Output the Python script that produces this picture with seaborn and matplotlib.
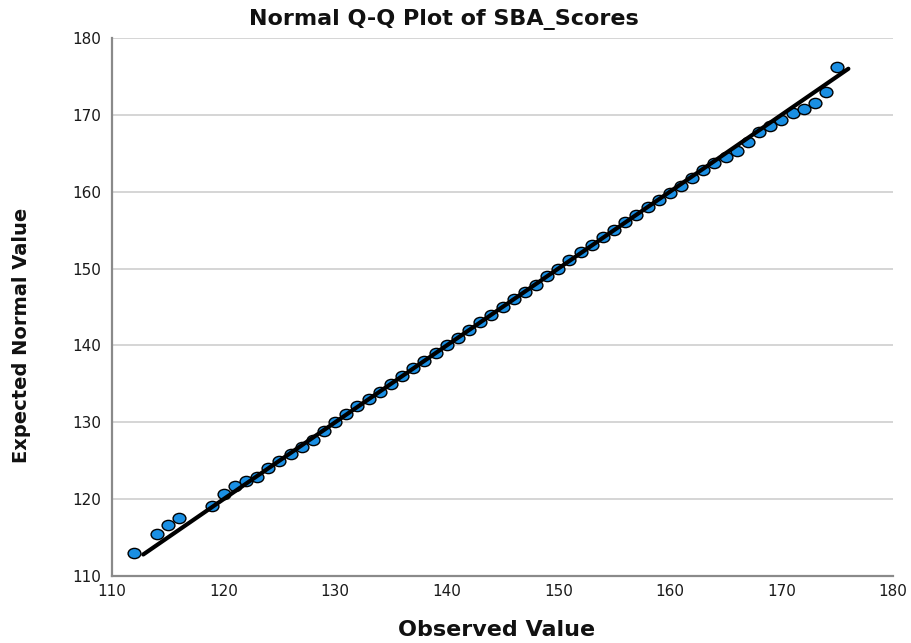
import matplotlib
matplotlib.use("Agg")
import matplotlib.pyplot as plt
import seaborn as sns
import pandas as pd
from matplotlib.path import Path
from matplotlib.transforms import Affine2D

# ---- data ----
observed = [112, 114, 115, 116, 119, 120, 121, 122, 123, 124, 125, 126, 127, 128,
            129, 130, 131, 132, 133, 134, 135, 136, 137, 138, 139, 140, 141, 142,
            143, 144, 145, 146, 147, 148, 149, 150, 151, 152, 153, 154, 155, 156,
            157, 158, 159, 160, 161, 162, 163, 164, 165, 166, 167, 168, 169, 170,
            171, 172, 173, 174, 175]
expected = [113.0, 115.4, 116.7, 117.6, 119.1, 120.7, 121.7, 122.3, 122.9, 124.0,
            124.9, 125.9, 126.8, 127.7, 128.9, 130.1, 131.1, 132.1, 133.0, 134.0,
            135.0, 136.0, 137.0, 138.0, 139.0, 140.0, 141.0, 142.0, 143.0, 144.0,
            145.0, 146.0, 146.9, 147.9, 149.0, 150.0, 151.1, 152.1, 153.1, 154.1,
            155.0, 156.0, 157.0, 158.0, 158.9, 159.8, 160.8, 161.8, 162.8, 163.7,
            164.5, 165.3, 166.5, 167.8, 168.5, 169.3, 170.3, 170.8, 171.5, 173.0,
            176.2]
line_x = [112.8, 176.0]
line_y = [112.8, 176.0]
ticks = [110, 120, 130, 140, 150, 160, 170, 180]
title = "Normal Q-Q Plot of SBA_Scores"
xlabel = "Observed Value"
ylabel = "Expected Normal Value"

pts = pd.DataFrame({"observed": observed, "expected": expected})
ln = pd.DataFrame({"x": line_x, "y": line_y})

sns.set_theme(style="white")
plt.rcParams["font.family"] = ["DejaVu Sans"]

W, H = 911, 643
fig = plt.figure(figsize=(W / 100, H / 100), dpi=100)
L, R, T, B = 112, 893, 38, 576
ax = fig.add_axes([L / W, 1 - B / H, (R - L) / W, (B - T) / H])

# slightly wide ellipse marker (the reference is horizontally stretched)
ell = Path.unit_circle().transformed(Affine2D().scale(1.0, 0.8))

sns.scatterplot(data=pts, x="observed", y="expected", ax=ax, marker=ell, s=85,
                color="#1a8fe3", edgecolor="black", linewidth=1.0, zorder=3,
                legend=False)
sns.lineplot(data=ln, x="x", y="y", ax=ax, color="black", linewidth=3.0,
             zorder=4, legend=False)

ax.set_xlim(110, 180)
ax.set_ylim(110, 180)
ax.set_xticks(ticks)
ax.set_yticks(ticks)
ax.set_xticklabels([str(t) for t in ticks], fontsize=11, color="#1a1a1a")
ax.set_yticklabels([str(t) for t in ticks], fontsize=11, color="#1a1a1a")
ax.tick_params(axis="both", length=0)
ax.tick_params(axis="x", pad=6)
ax.tick_params(axis="y", pad=8)

ax.yaxis.grid(True, color="#d2d2d2", linewidth=1.3)
ax.xaxis.grid(False)
ax.set_axisbelow(True)
for s in ["top", "right"]:
    ax.spines[s].set_visible(False)
for s in ["left", "bottom"]:
    ax.spines[s].set_color("#8a8a8a")
    ax.spines[s].set_linewidth(1.6)

ax.set_xlabel(xlabel, fontsize=16, fontweight="bold", color="#111111")
ax.set_ylabel(ylabel, fontsize=14, fontweight="bold", color="#111111")
ax.xaxis.set_label_coords((497 - L) / (R - L), (B - 630) / (B - T))
ax.yaxis.set_label_coords((22 - L) / (R - L), (B - 335) / (B - T))
ax.xaxis.label.set_va("center")
ax.yaxis.label.set_va("center")

fig.text(444 / W, 1 - 20 / H, title, ha="center", va="center",
         fontsize=16, fontweight="bold", color="#111111")

fig.savefig("out.png", dpi=100)
